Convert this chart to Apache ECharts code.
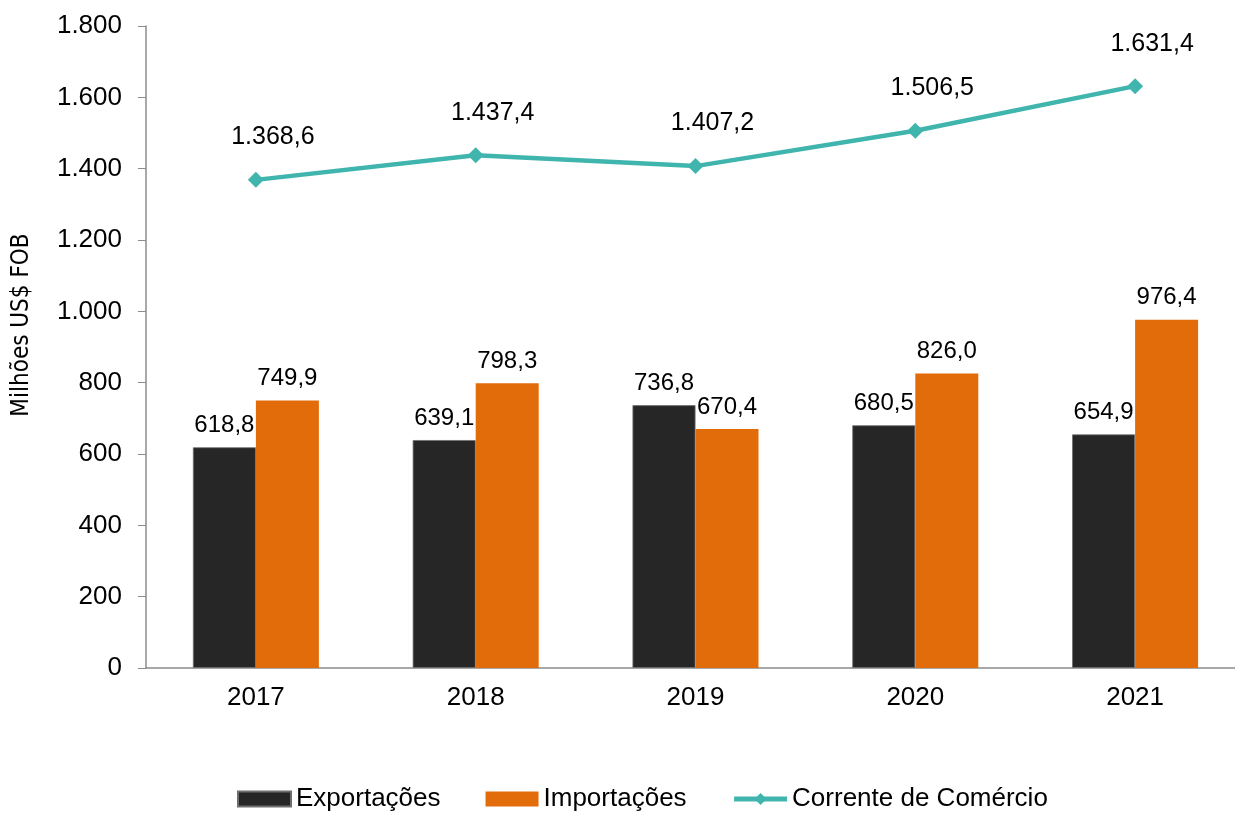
<!DOCTYPE html>
<html><head><meta charset="utf-8">
<script src="https://cdn.jsdelivr.net/npm/echarts@6/dist/echarts.min.js"></script>
<style>html,body{margin:0;padding:0;background:#fff;overflow:hidden}#c{width:1250px;height:814px}</style>
</head><body><div id="c"></div>
<script>
const categories = ['2017','2018','2019','2020','2021'];
const exportacoes = [618.8, 639.1, 736.8, 680.5, 654.9];
const importacoes = [749.9, 798.3, 670.4, 826.0, 976.4];
const corrente = [1368.6, 1437.4, 1407.2, 1506.5, 1631.4];
const yTicks = [0, 200, 400, 600, 800, 1000, 1200, 1400, 1600, 1800];
const yTitle = 'Milhões US$ FOB';

const fmt = v => {
  const s = v.toFixed(1).split('.');
  const int = s[0].replace(/\B(?=(\d{3})+(?!\d))/g, '.');
  return int + ',' + s[1];
};
const chart = echarts.init(document.getElementById('c'));
const font = 'Liberation Sans, Arial, sans-serif';
chart.setOption({
  animation: false,
  textStyle: {fontFamily: font},
  grid: {left: 146, top: 26, width: 1099, height: 642, outerBoundsMode: 'none', containLabel: false},
  graphic: [{
    type: 'text', x: 22, y: 325, rotation: Math.PI / 2,
    style: {text: yTitle, fontSize: 24, fill: '#000', fontFamily: 'DejaVu Sans Condensed, Liberation Sans',
      align: 'center', verticalAlign: 'middle'}
  }],
  legend: {
    top: 786, left: 237, padding: 0, itemGap: 45, itemWidth: 53, itemHeight: 15,
    textStyle: {fontSize: 26, color: '#000', fontFamily: font},
    data: [
      {name: 'Exportações', icon: 'rect'},
      {name: 'Importações', icon: 'rect'},
      {name: 'Corrente de Comércio', lineStyle: {width: 5}}
    ]
  },
  xAxis: {
    type: 'category', data: categories,
    axisLine: {lineStyle: {color: '#8c8c8c', width: 1.5}},
    axisTick: {show: false},
    axisLabel: {fontSize: 26, color: '#000', margin: 17}
  },
  yAxis: {
    type: 'value', min: yTicks[0], max: yTicks[yTicks.length - 1], interval: yTicks[1] - yTicks[0],
    axisLine: {show: true, lineStyle: {color: '#8c8c8c', width: 1.5}},
    axisTick: {show: true, length: 8, lineStyle: {color: '#8c8c8c'}},
    splitLine: {show: false},
    axisLabel: {fontSize: 26, color: '#000', margin: 24,
      formatter: v => String(v).replace(/\B(?=(\d{3})+(?!\d))/g, '.')}
  },
  series: [
    {name: 'Exportações', type: 'bar', data: exportacoes, barWidth: 63, barGap: '0%',
      itemStyle: {color: '#262626', borderColor: '#6e6e6e', borderWidth: 0.8},
      label: {show: true, position: 'top', distance: 10, fontSize: 24, color: '#000', formatter: p => fmt(p.value)}},
    {name: 'Importações', type: 'bar', data: importacoes, barWidth: 63,
      itemStyle: {color: '#E36C0A'},
      label: {show: true, position: 'top', distance: 10, fontSize: 24, color: '#000', formatter: p => fmt(p.value)}},
    {name: 'Corrente de Comércio', type: 'line', data: corrente,
      symbol: 'diamond', symbolSize: 16,
      lineStyle: {color: '#3FB5AE', width: 4.5},
      itemStyle: {color: '#3FB5AE'},
      label: {show: true, position: 'top', distance: 22, offset: [17, 0], fontSize: 25, color: '#000', formatter: p => fmt(p.value)}}
  ]
});
</script></body></html>
